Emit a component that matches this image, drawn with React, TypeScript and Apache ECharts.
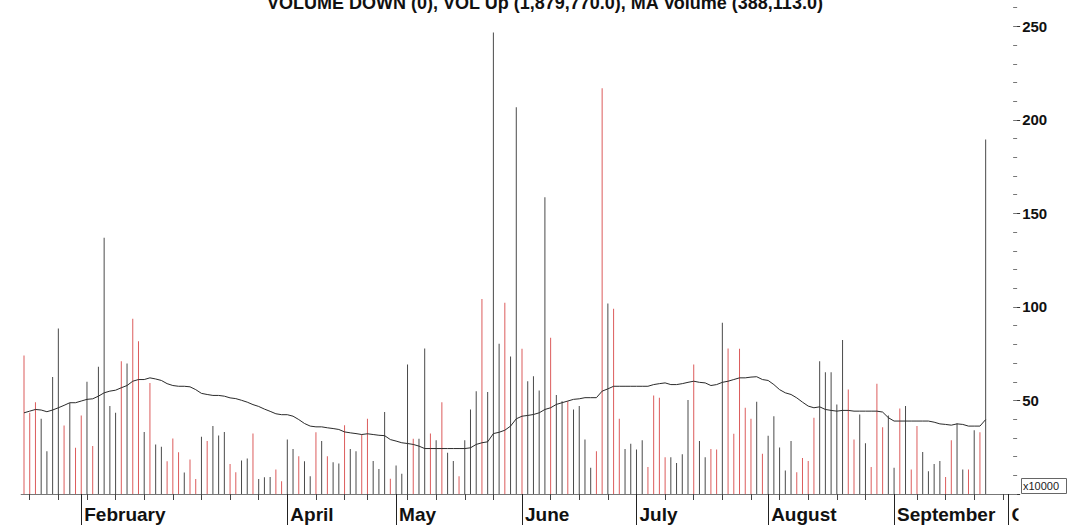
import React, { useEffect, useRef } from "react";
import * as echarts from "echarts";

// Daily volume (x10000)
const volume: number[] = [
  74.0, 43.4, 49.1, 40.2, 22.9, 62.6, 88.5, 36.6, 48.7, 24.7,
  42.0, 60.0, 25.6, 68.0, 137.0, 47.0, 43.4, 71.0, 69.8, 93.7,
  81.7, 33.2, 59.4, 26.5, 25.2, 17.5, 29.7, 22.3, 11.5, 18.4,
  8.0, 30.6, 28.3, 36.3, 31.3, 33.2, 16.1, 11.6, 17.9, 19.0,
  32.3, 8.0, 9.0, 9.1, 13.1, 6.8, 29.1, 24.1, 20.2, 17.5,
  9.5, 33.0, 28.3, 20.2, 17.0, 16.3, 36.7, 24.1, 22.9, 31.8,
  40.2, 17.6, 13.4, 43.8, 8.1, 15.2, 10.8, 69.2, 29.5, 29.5,
  77.8, 32.3, 28.8, 49.1, 22.0, 17.6, 9.5, 28.8, 45.2, 55.0,
  104.3, 54.5, 246.7, 80.3, 102.2, 73.5, 206.8, 77.6, 60.3, 63.0,
  55.3, 158.6, 83.5, 52.9, 49.6, 49.6, 45.2, 47.0, 29.1, 14.0,
  22.9, 217.0, 101.8, 99.0, 40.2, 24.1, 26.8, 23.8, 28.8, 14.5,
  52.7, 51.5, 19.7, 19.7, 16.6, 21.2, 50.2, 69.2, 28.3, 19.7,
  24.1, 23.8, 91.5, 77.8, 32.2, 77.6, 46.1, 40.2, 49.3, 21.5,
  31.2, 41.6, 24.9, 12.5, 28.3, 11.6, 19.3, 17.6, 40.8, 71.0,
  65.1, 65.1, 47.9, 82.4, 55.9, 29.1, 42.5, 27.2, 14.5, 59.0,
  35.7, 42.0, 14.0, 45.7, 47.0, 13.1, 36.3, 22.5, 12.2, 16.1,
  17.6, 9.1, 28.8, 37.7, 13.1, 13.1, 34.1, 33.0, 189.6,
];

// u = up day (red), d = down day (black)
const direction: string[] = (
  "uuuddddudu" + "ududdddudu" + "ududduuudu" + "ududdduudd" + "uddduuddud" +
  "dududduddu" + "udddudddud" + "dududduddd" + "uddduddudd" + "dduddudddd" +
  "uuduuddddu" + "uuuddddudd" + "uuduuuuudu" + "ddddduuuud" + "dddduudduu" +
  "udduduuddd" + "duuddudud"
).split("");

// Moving average of volume
const maVolume: number[] = [
  43.4, 44.3, 45.2, 44.9, 44.0, 44.9, 46.1, 47.4, 48.8, 48.8,
  49.7, 50.6, 50.9, 52.3, 54.1, 55.0, 55.5, 56.8, 58.0, 60.3,
  61.2, 61.2, 62.1, 61.5, 60.7, 59.0, 58.0, 57.6, 57.6, 57.3,
  55.8, 53.8, 53.2, 52.7, 52.7, 52.3, 51.4, 51.0, 50.1, 49.1,
  47.8, 46.8, 45.4, 44.2, 42.9, 42.4, 42.4, 41.6, 39.8, 37.7,
  36.3, 35.9, 35.9, 35.4, 35.0, 34.5, 33.2, 32.7, 32.3, 31.8,
  32.2, 31.8, 31.4, 31.2, 29.1, 28.3, 27.4, 27.0, 26.5, 25.6,
  24.3, 24.3, 24.3, 24.3, 24.3, 24.3, 24.3, 24.3, 24.7, 26.5,
  27.4, 27.9, 32.3, 33.0, 34.1, 36.3, 40.2, 41.6, 42.0, 42.5,
  43.4, 45.2, 46.1, 47.9, 48.8, 49.7, 50.6, 50.9, 51.5, 51.5,
  51.5, 55.0, 56.2, 57.6, 57.6, 57.6, 57.6, 57.6, 57.6, 57.6,
  58.5, 59.0, 59.4, 58.5, 58.5, 59.0, 59.7, 60.3, 59.7, 59.4,
  58.0, 58.5, 59.7, 60.3, 61.2, 62.1, 62.1, 62.5, 62.7, 61.2,
  60.7, 58.5, 55.8, 54.1, 53.2, 51.4, 49.1, 47.0, 46.1, 46.6,
  45.2, 44.7, 44.3, 44.7, 44.7, 44.3, 44.3, 44.3, 44.3, 44.3,
  43.8, 40.8, 39.0, 39.0, 39.0, 39.0, 39.0, 39.0, 39.0, 38.4,
  37.5, 37.2, 36.8, 37.5, 37.2, 36.3, 36.3, 36.3, 39.8,
];

const dayCount = 174;
const monthStartIndex: number[] = [10, 46, 65, 87, 107, 130, 152, 172];
const monthLabels: string[] = ["February", "April", "May", "June", "July", "August", "September", "October"];
const weekTickIndex: number[] = [
  1, 6, 11, 16, 21, 26, 31, 36, 41, 51, 56, 60, 67, 72, 77, 82, 92, 97, 102,
  112, 117, 122, 127, 132, 137, 142, 147, 156, 161, 166, 171,
];
const titleText = "VOLUME DOWN (0), VOL Up (1,879,770.0), MA Volume (388,113.0)";
const unitLabel = "x10000";

const FONT = '"Liberation Sans", Arial, sans-serif';
const UP = "#dc5c5c";
const DOWN = "#4a4a4a";

export default function App() {
  const ref = useRef<HTMLDivElement>(null);
  useEffect(() => {
    if (!ref.current) return;
    const chart = echarts.init(ref.current, null, { renderer: "svg" });
    const categories = Array.from({ length: dayCount }, (_, i) => String(i));
    const barData = volume.map((v, i) => ({
      value: v,
      itemStyle: { color: direction[i] === "u" ? UP : DOWN },
    }));
    const monthMap: Record<number, string> = {};
    monthStartIndex.forEach((idx, k) => (monthMap[idx] = monthLabels[k]));
    const weekSet = new Set(weekTickIndex);

    const option: any = {
      animation: false,
      backgroundColor: "#ffffff",
      grid: {
        left: 21.14,
        top: -11,
        width: 996,
        height: 505,
        containLabel: false,
        outerBoundsMode: "none",
      },
      xAxis: [
        {
          type: "category",
          data: categories,
          boundaryGap: true,
          position: "bottom",
          axisLine: { show: true, lineStyle: { color: "#777", width: 1 } },
          axisTick: {
            show: true,
            alignWithLabel: true,
            length: 6,
            interval: (i: number) => weekSet.has(i),
            lineStyle: { color: "#444", width: 1 },
          },
          axisLabel: { show: false },
          splitLine: { show: false },
        },
        {
          type: "category",
          data: categories,
          boundaryGap: true,
          position: "bottom",
          axisLine: { show: false },
          axisTick: {
            show: true,
            alignWithLabel: true,
            length: 34,
            interval: (i: number) => monthMap[i] !== undefined,
            lineStyle: { color: "#222", width: 1 },
          },
          axisLabel: {
            show: true,
            interval: (i: number) => monthMap[i] !== undefined,
            formatter: (_v: string, i: number) => monthMap[i] || "",
            align: "left",
            verticalAlign: "top",
            padding: [0, 0, 0, 3],
            margin: 11,
            fontSize: 19,
            fontWeight: "bold",
            fontFamily: FONT,
            color: "#111",
          },
          splitLine: { show: false },
        },
      ],
      yAxis: [
        {
          type: "value",
          position: "right",
          offset: -2,
          min: 0,
          max: 270,
          interval: 50,
          axisLine: { show: false },
          axisTick: { show: true, length: 5, lineStyle: { color: "#333" } },
          axisLabel: {
            show: true,
            margin: 7,
            fontSize: 15,
            fontWeight: "bold",
            fontFamily: FONT,
            color: "#111",
            formatter: (v: number) => (v > 0 && v % 50 === 0 ? String(v) : ""),
          },
          splitLine: { show: false },
        },
        {
          type: "value",
          position: "right",
          offset: -4,
          min: 0,
          max: 270,
          interval: 10,
          axisLine: { show: false },
          axisTick: { show: true, length: 4, lineStyle: { color: "#777" } },
          axisLabel: { show: false },
          splitLine: { show: false },
        },
      ],
      series: [
        {
          type: "bar",
          xAxisIndex: 0,
          yAxisIndex: 0,
          barWidth: 1,
          data: barData,
          silent: true,
        },
        {
          type: "line",
          xAxisIndex: 0,
          yAxisIndex: 0,
          data: maVolume,
          symbol: "none",
          lineStyle: { color: "#2a2a2a", width: 1 },
          silent: true,
          z: 3,
        },
      ],
      graphic: [
        {
          type: "text",
          z: 100,
          style: {
            text: titleText,
            x: 545,
            y: 3,
            textAlign: "center",
            textVerticalAlign: "middle",
            font: `bold 18px ${FONT}`,
            fill: "#111",
          },
        },
        {
          type: "rect",
          z: 100,
          shape: { x: 1018.5, y: 499, width: 60, height: 30 },
          style: { fill: "#ffffff" },
        },
        {
          type: "rect",
          z: 101,
          shape: { x: 1021.5, y: 478.5, width: 45, height: 15 },
          style: { fill: "#ffffff", stroke: "#666", lineWidth: 1 },
        },
        {
          type: "text",
          z: 102,
          style: {
            text: unitLabel,
            x: 1023,
            y: 486,
            textAlign: "left",
            textVerticalAlign: "middle",
            font: `11px ${FONT}`,
            fill: "#222",
          },
        },
      ],
    };
    chart.setOption(option);
    return () => chart.dispose();
  }, []);
  return (
    <div
      ref={ref}
      style={{ position: "absolute", left: 0, top: 0, width: 1076, height: 525, background: "#fff" }}
    />
  );
}
